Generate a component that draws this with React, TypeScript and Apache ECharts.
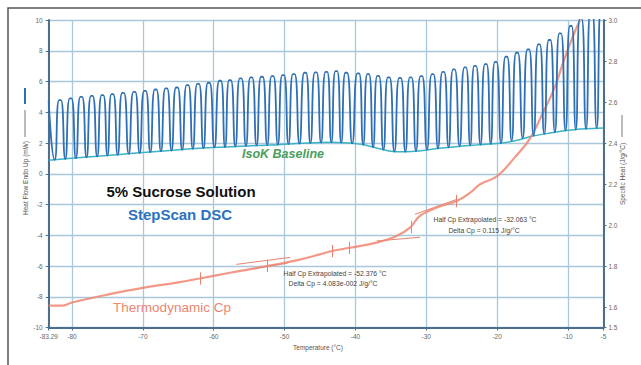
import React, { useEffect, useRef } from "react";
import * as echarts from "echarts";

// ---- axis ticks ----
const xTickValues = [-83.29, -80, -70, -60, -50, -40, -30, -20, -10, -5];
const cpTickValues = [1.5, 1.6, 1.8, 2.0, 2.2, 2.4, 2.6, 2.8, 3.0];

// ---- StepScan heat flow (mW): start point, troughs and peaks of each cycle ----
const startTemp = -83.29;
const startHeat = 4.75;
const troughTemps = [
  -82.45, -80.95, -79.45, -77.95, -76.45, -75.0, -73.55, -72.0, -70.45, -68.95,
  -67.45, -65.95, -64.45, -62.95, -61.45, -59.9, -58.4, -56.95, -55.45, -53.95,
  -52.45, -50.95, -49.45, -47.9, -46.35, -44.85, -43.4, -42.0, -40.45, -38.9,
  -37.5, -36.05, -34.5, -32.95, -31.45, -29.9, -28.35, -26.85, -25.3, -23.8,
  -22.35, -20.9, -19.45, -17.95, -16.4, -14.85, -13.35, -11.85, -10.35, -8.9,
  -7.45, -5.95,
];
const troughHeats = [
  0.9, 0.96, 1.01, 1.07, 1.12, 1.18, 1.23, 1.29, 1.34, 1.4,
  1.45, 1.51, 1.56, 1.62, 1.67, 1.71, 1.74, 1.77, 1.8, 1.84,
  1.87, 1.9, 1.93, 1.96, 1.99, 2.02, 2.05, 2.03, 1.97, 1.88,
  1.72, 1.56, 1.44, 1.43, 1.47, 1.56, 1.65, 1.72, 1.79, 1.85,
  1.89, 1.93, 1.98, 2.14, 2.31, 2.47, 2.58, 2.7, 2.81, 2.87,
  2.92, 2.96,
];
const peakTemps = [
  -81.7, -80.2, -78.7, -77.2, -75.7, -74.3, -72.8, -71.2, -69.7, -68.2,
  -66.7, -65.2, -63.7, -62.2, -60.7, -59.1, -57.7, -56.2, -54.7, -53.2,
  -51.7, -50.2, -48.7, -47.1, -45.6, -44.1, -42.7, -41.3, -39.6, -38.2,
  -36.8, -35.3, -33.7, -32.2, -30.7, -29.1, -27.6, -26.1, -24.5, -23.1,
  -21.6, -20.2, -18.7, -17.2, -15.6, -14.1, -12.6, -11.1, -9.6, -8.2,
  -6.7, -5.2,
];
const peakHeats = [
  4.79, 4.9, 5.0, 5.07, 5.11, 5.18, 5.26, 5.33, 5.39, 5.48,
  5.55, 5.61, 5.77, 5.85, 5.92, 6.05, 6.09, 6.2, 6.27, 6.31,
  6.35, 6.42, 6.48, 6.57, 6.59, 6.63, 6.68, 6.57, 6.53, 6.48,
  6.37, 6.27, 6.24, 6.27, 6.35, 6.48, 6.63, 6.79, 6.92, 7.02,
  7.13, 7.28, 7.61, 7.87, 8.09, 8.42, 8.7, 9.13, 9.61, 10.1,
  10.6, 11.0,
];
// each peak is a short rounded plateau (°C either side of the peak temperature)
const peakHalfWidth = 0.12;

// ---- IsoK baseline (mW) ----
const baseTemps = [-83.29, -62, -52, -43.4, -41, -39, -37, -35, -33, -31, -28.5, -23.4, -19.6, -17, -15, -12.5, -10, -7.5, -5];
const baseHeats = [0.88, 1.66, 1.87, 2.05, 2.0, 1.9, 1.68, 1.47, 1.43, 1.48, 1.64, 1.86, 1.98, 2.2, 2.45, 2.65, 2.83, 2.93, 2.98];

// ---- Thermodynamic Cp (J/g/°C) ----
const cpTemps = [-83.29, -81.3, -80, -75, -70, -65, -62, -57.7, -52.5, -48, -45, -43.3, -40.8, -37, -34.2, -32.3, -30.9, -28.5, -25.7, -23.8, -22.4, -20, -17.5, -15.4, -13.5, -12, -10.5, -9.3, -8.3];
const cpValues = [1.607, 1.607, 1.622, 1.66, 1.693, 1.72, 1.739, 1.767, 1.799, 1.83, 1.857, 1.873, 1.889, 1.914, 1.946, 1.987, 2.044, 2.085, 2.117, 2.158, 2.199, 2.238, 2.33, 2.42, 2.55, 2.66, 2.81, 2.92, 3.0];

// ---- analysis marks on Cp curve ----
const markTemps = [-61.94, -52.4, -43.3, -40.9, -32.1, -25.7];
const markCps = [1.739, 1.8, 1.873, 1.888, 1.99, 2.117];
const markHalfHeight = 0.03;

// extrapolated tangent lines
const tangentStartT = [-56.8, -54.5, -37.0, -31.6];
const tangentStartCp = [1.808, 1.786, 1.922, 2.052];
const tangentEndT = [-49.2, -49.5, -30.9, -25.7];
const tangentEndCp = [1.842, 1.815, 1.94, 2.125];

const annotations = [
  { text: "Half Cp Extrapolated = -52.376 °C", x: 335, y: 273 },
  { text: "Delta Cp = 4.083e-002 J/g/°C", x: 333, y: 283 },
  { text: "Half Cp Extrapolated = -32.063 °C", x: 485, y: 219 },
  { text: "Delta Cp = 0.115 J/g/°C", x: 484, y: 230 },
];

export default function App() {
  const ref = useRef<HTMLDivElement>(null);
  useEffect(() => {
    const chart = echarts.init(ref.current!, null, { renderer: "svg" });

    const heatFlow: number[][] = [[startTemp, startHeat]];
    for (let i = 0; i < peakTemps.length; i++) {
      heatFlow.push([troughTemps[i], troughHeats[i]]);
      heatFlow.push([peakTemps[i] - peakHalfWidth, peakHeats[i]]);
      heatFlow.push([peakTemps[i] + peakHalfWidth, peakHeats[i]]);
    }
    const baseline = baseTemps.map((t, i) => [t, baseHeats[i]]);
    const cp = cpTemps.map((t, i) => [t, cpValues[i]]);
    const marks = markTemps.map((t, i) => ({
      coords: [
        [t, markCps[i] - markHalfHeight],
        [t, markCps[i] + markHalfHeight],
      ],
    }));
    const tangents = tangentStartT.map((t, i) => ({
      coords: [
        [t, tangentStartCp[i]],
        [tangentEndT[i], tangentEndCp[i]],
      ],
    }));

    const axisColor = "#4d6e8c";
    const labelStyle = { fontSize: 6.5, color: "#666", fontFamily: "Liberation Sans" };
    const smallFont = "6.8px 'Liberation Sans'";

    const option: any = {
      animation: false,
      backgroundColor: "#ffffff",
      grid: { left: 48.7, right: 37.6, top: 20, bottom: 37.5 },
      xAxis: {
        type: "value",
        min: -83.29,
        max: -5,
        axisLine: { show: true, onZero: false, lineStyle: { color: axisColor, width: 2 } },
        axisTick: { show: true, customValues: xTickValues, length: 3, lineStyle: { color: axisColor } },
        axisLabel: {
          ...labelStyle,
          customValues: xTickValues,
          margin: 5,
          formatter: (v: number) => String(v),
        },
        splitLine: { show: true, lineStyle: { color: "#a9c8dc", width: 1.3 } },
      },
      yAxis: [
        {
          type: "value",
          min: -10,
          max: 10,
          interval: 2,
          axisLine: { show: true, onZero: false, lineStyle: { color: axisColor, width: 2 } },
          axisTick: { show: true, length: 3, lineStyle: { color: axisColor } },
          axisLabel: { ...labelStyle, margin: 6 },
          splitLine: { show: true, lineStyle: { color: "#a9c8dc", width: 1.3 } },
        },
        {
          type: "value",
          position: "right",
          min: 1.5,
          max: 3.0,
          axisLine: { show: true, onZero: false, lineStyle: { color: axisColor, width: 2 } },
          axisTick: { show: true, customValues: cpTickValues, length: 3, lineStyle: { color: axisColor } },
          axisLabel: {
            ...labelStyle,
            customValues: cpTickValues,
            margin: 5,
            formatter: (v: number) => v.toFixed(1),
          },
          splitLine: { show: false },
        },
      ],
      series: [
        {
          name: "IsoK Baseline",
          type: "line",
          data: baseline,
          smooth: 0.3,
          showSymbol: false,
          lineStyle: { color: "#3ab4c6", width: 1.5 },
          z: 2,
        },
        {
          name: "Thermodynamic Cp",
          type: "line",
          yAxisIndex: 1,
          data: cp,
          smooth: 0.4,
          showSymbol: false,
          lineStyle: { color: "#ef8672", width: 2.2, opacity: 0.85 },
          z: 3,
        },
        {
          name: "Extrapolated",
          type: "lines",
          coordinateSystem: "cartesian2d",
          yAxisIndex: 1,
          data: tangents,
          lineStyle: { color: "#e9735c", width: 1, opacity: 0.9 },
          z: 3,
        },
        {
          name: "Marks",
          type: "lines",
          coordinateSystem: "cartesian2d",
          yAxisIndex: 1,
          data: marks,
          lineStyle: { color: "#e9735c", width: 1, opacity: 0.9 },
          z: 3,
        },
        {
          name: "Heat Flow",
          type: "line",
          data: heatFlow,
          smooth: 0.6,
          showSymbol: false,
          lineStyle: { color: "#2f6fb4", width: 1.8 },
          z: 4,
        },
      ],
      graphic: [
        {
          type: "rect",
          shape: { x: 8, y: 8, width: 700, height: 420 },
          style: { fill: "none", stroke: "#555", lineWidth: 1.5 },
          silent: true,
          z: 0,
        },
        {
          type: "text",
          x: 181,
          y: 191,
          style: { text: "5% Sucrose Solution", font: "bold 15px 'Liberation Sans'", fill: "#111", textAlign: "center", textVerticalAlign: "middle" },
          z: 10,
        },
        {
          type: "text",
          x: 180,
          y: 214,
          style: { text: "StepScan DSC", font: "bold 15px 'Liberation Sans'", fill: "#2c72c0", textAlign: "center", textVerticalAlign: "middle" },
          z: 10,
        },
        {
          type: "text",
          x: 172,
          y: 307,
          style: { text: "Thermodynamic Cp", font: "13.5px 'Liberation Sans'", fill: "#ee8570", textAlign: "center", textVerticalAlign: "middle" },
          z: 10,
        },
        {
          type: "text",
          x: 283,
          y: 154,
          style: { text: "IsoK Baseline", font: "italic bold 12.5px 'Liberation Sans'", fill: "#4a9e5c", textAlign: "center", textVerticalAlign: "middle" },
          z: 10,
        },
        ...annotations.map((a) => ({
          type: "text",
          x: a.x,
          y: a.y,
          style: { text: a.text, font: smallFont, fill: "#444", textAlign: "center", textVerticalAlign: "middle" },
          z: 10,
        })),
        {
          type: "text",
          x: 318,
          y: 347,
          style: { text: "Temperature (°C)", font: "6.5px 'Liberation Sans'", fill: "#555", textAlign: "center", textVerticalAlign: "middle" },
          z: 10,
        },
        {
          type: "text",
          x: 25,
          y: 178,
          rotation: Math.PI / 2,
          style: { text: "Heat Flow Endo Up (mW)", font: "6.5px 'Liberation Sans'", fill: "#555", textAlign: "center", textVerticalAlign: "middle" },
          z: 10,
        },
        {
          type: "line",
          shape: { x1: 25, y1: 137, x2: 25, y2: 110 },
          style: { stroke: "#555", lineWidth: 0.8 },
          z: 10,
        },
        {
          type: "line",
          shape: { x1: 25, y1: 104, x2: 25, y2: 88 },
          style: { stroke: "#2f6fb4", lineWidth: 2 },
          z: 10,
        },
        {
          type: "text",
          x: 622,
          y: 174,
          rotation: Math.PI / 2,
          style: { text: "Specific Heat (J/g/°C)", font: "6.5px 'Liberation Sans'", fill: "#555", textAlign: "center", textVerticalAlign: "middle" },
          z: 10,
        },
        {
          type: "line",
          shape: { x1: 622, y1: 137, x2: 622, y2: 115 },
          style: { stroke: "#555", lineWidth: 0.8 },
          z: 10,
        },
      ],
    };
    chart.setOption(option);
    return () => chart.dispose();
  }, []);
  return (
    <div
      ref={ref}
      style={{ position: "fixed", left: 0, top: 0, width: 641, height: 365, background: "#fff" }}
    />
  );
}
